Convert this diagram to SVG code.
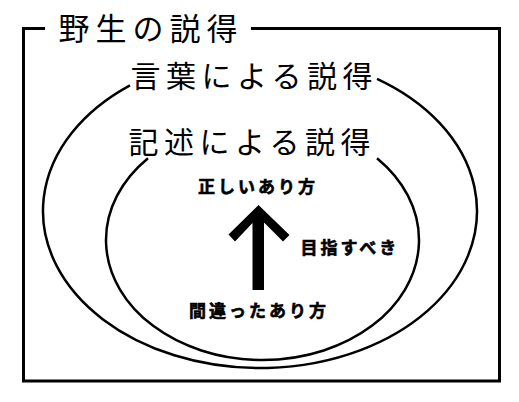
<svg xmlns="http://www.w3.org/2000/svg" width="519" height="402" viewBox="0 0 519 402">
<style>
.frame{fill:none;stroke:#000;stroke-width:3}
.ell{fill:none;stroke:#000;stroke-width:2.5}
.big{font-family:"Noto Sans CJK JP","Noto Sans CJK SC",sans-serif;fill:#000}
.bold{font-family:"Noto Sans CJK JP","Noto Sans CJK SC",sans-serif;font-weight:bold;font-size:17px;letter-spacing:3px;fill:#000;stroke:#000;stroke-width:0.6}
</style>
<rect width="519" height="402" fill="#fff"/>
<g id="wild">
<path class="frame" d="M45,28.5 H23.5 V381 H499.5 V28.5 H251"/>
<text class="big" x="58.5" y="39.5" font-size="31" letter-spacing="6">野生の説得</text>
</g>
<g id="words">
<path class="ell" d="M130,85.3 A217,157 0 1,0 377,78.8"/>
<text class="big" x="130.5" y="87" font-size="30" letter-spacing="5.5">言葉による説得</text>
</g>
<g id="written">
<path class="ell" d="M148,158.2 A156.5,120 0 1,0 377,158.2"/>
<text class="big" x="128.5" y="153" font-size="30" letter-spacing="5.5">記述による説得</text>
</g>
<g id="right-way">
<text class="bold" x="198" y="193">正しいあり方</text>
</g>
<g id="wrong-way">
<text class="bold" x="189" y="317">間違ったあり方</text>
</g>
<g id="connectors">
<polygon fill="#000" points="258.5,205 289.5,235 283,241.5 264,222.5 264,290 252.5,290 252.5,223 235,241.5 228.5,234.5"/>
<text class="bold" x="300.5" y="254">目指すべき</text>
</g>
</svg>
